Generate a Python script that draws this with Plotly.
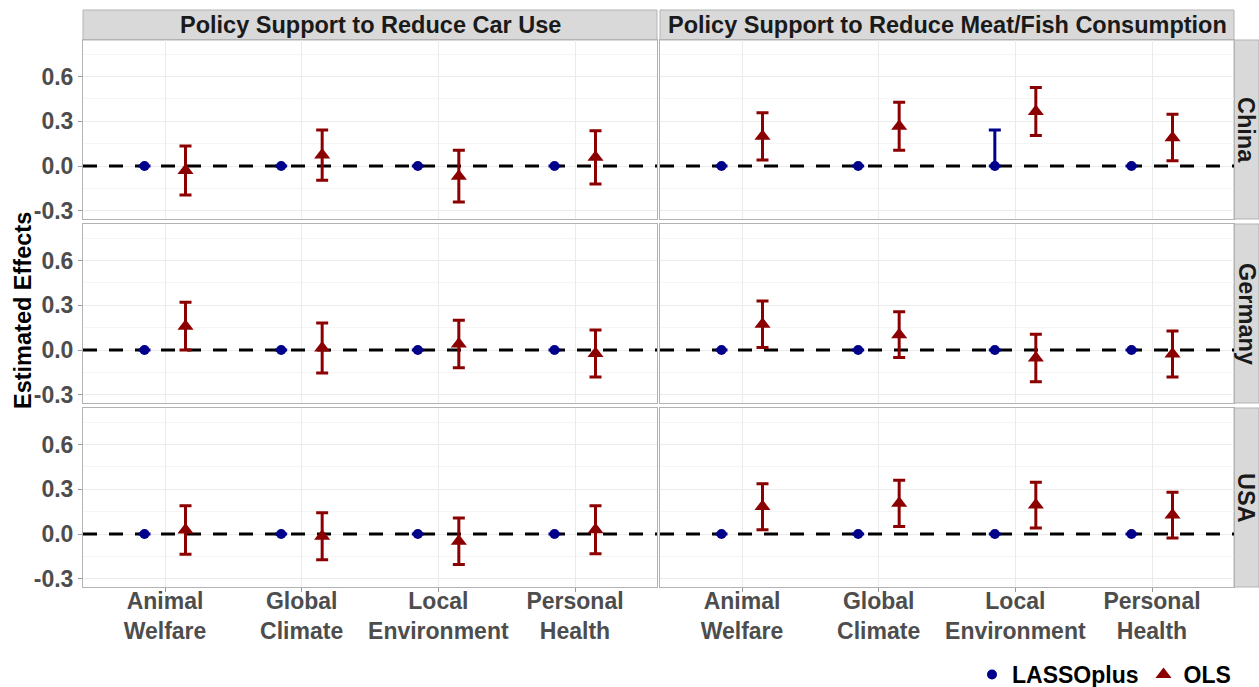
import plotly.graph_objects as go

# ---------------- data ----------------
categories = ["Animal Welfare", "Global Climate", "Local Environment", "Personal Health"]
category_ticks = ["Animal<br>Welfare", "Global<br>Climate", "Local<br>Environment", "Personal<br>Health"]
outcomes = ["Policy Support to Reduce Car Use", "Policy Support to Reduce Meat/Fish Consumption"]
countries = ["China", "Germany", "USA"]
y_ticks = [-0.3, 0.0, 0.3, 0.6]
y_tick_labels = ["-0.3", "0.0", "0.3", "0.6"]
reference_value = 0.0

# OLS estimates with lower / upper confidence bounds
ols_china_car = [-0.030, 0.073, -0.069, 0.058]
ols_china_car_lo = [-0.195, -0.096, -0.242, -0.121]
ols_china_car_hi = [0.134, 0.242, 0.105, 0.237]

ols_china_meat = [0.199, 0.266, 0.365, 0.190]
ols_china_meat_lo = [0.040, 0.105, 0.204, 0.036]
ols_china_meat_hi = [0.358, 0.427, 0.526, 0.347]

ols_germany_car = [0.160, 0.014, 0.040, -0.024]
ols_germany_car_lo = [0.000, -0.154, -0.119, -0.181]
ols_germany_car_hi = [0.320, 0.181, 0.199, 0.134]

ols_germany_meat = [0.172, 0.103, -0.054, -0.027]
ols_germany_meat_lo = [0.016, -0.051, -0.213, -0.181]
ols_germany_meat_hi = [0.329, 0.257, 0.105, 0.128]

ols_usa_car = [0.027, -0.015, -0.049, 0.029]
ols_usa_car_lo = [-0.136, -0.172, -0.204, -0.132]
ols_usa_car_hi = [0.190, 0.143, 0.107, 0.190]

ols_usa_meat = [0.184, 0.206, 0.194, 0.127]
ols_usa_meat_lo = [0.029, 0.051, 0.040, -0.027]
ols_usa_meat_hi = [0.338, 0.360, 0.347, 0.280]

# LASSOplus estimates with lower / upper bounds
lasso_china_car = [0.0, 0.0, 0.0, 0.0]
lasso_china_car_lo = [0.0, 0.0, 0.0, 0.0]
lasso_china_car_hi = [0.0, 0.0, 0.0, 0.0]

lasso_china_meat = [0.0, 0.0, 0.0, 0.0]
lasso_china_meat_lo = [0.0, 0.0, 0.0, 0.0]
lasso_china_meat_hi = [0.0, 0.0, 0.242, 0.0]

lasso_germany_car = [0.0, 0.0, 0.0, 0.0]
lasso_germany_car_lo = [0.0, 0.0, 0.0, 0.0]
lasso_germany_car_hi = [0.0, 0.0, 0.0, 0.0]

lasso_germany_meat = [0.0, 0.0, 0.0, 0.0]
lasso_germany_meat_lo = [0.0, 0.0, 0.0, 0.0]
lasso_germany_meat_hi = [0.0, 0.0, 0.0, 0.0]

lasso_usa_car = [0.0, 0.0, 0.0, 0.0]
lasso_usa_car_lo = [0.0, 0.0, 0.0, 0.0]
lasso_usa_car_hi = [0.0, 0.0, 0.0, 0.0]

lasso_usa_meat = [0.0, 0.0, 0.0, 0.0]
lasso_usa_meat_lo = [0.0, 0.0, 0.0, 0.0]
lasso_usa_meat_hi = [0.0, 0.0, 0.0, 0.0]

panels = {
    ("China", 0): (lasso_china_car, lasso_china_car_lo, lasso_china_car_hi, ols_china_car, ols_china_car_lo, ols_china_car_hi),
    ("China", 1): (lasso_china_meat, lasso_china_meat_lo, lasso_china_meat_hi, ols_china_meat, ols_china_meat_lo, ols_china_meat_hi),
    ("Germany", 0): (lasso_germany_car, lasso_germany_car_lo, lasso_germany_car_hi, ols_germany_car, ols_germany_car_lo, ols_germany_car_hi),
    ("Germany", 1): (lasso_germany_meat, lasso_germany_meat_lo, lasso_germany_meat_hi, ols_germany_meat, ols_germany_meat_lo, ols_germany_meat_hi),
    ("USA", 0): (lasso_usa_car, lasso_usa_car_lo, lasso_usa_car_hi, ols_usa_car, ols_usa_car_lo, ols_usa_car_hi),
    ("USA", 1): (lasso_usa_meat, lasso_usa_meat_lo, lasso_usa_meat_hi, ols_usa_meat, ols_usa_meat_lo, ols_usa_meat_hi),
}

# ---------------- layout constants ----------------
W, H = 1259, 687
FONT = "Liberation Sans, Arial, Helvetica, sans-serif"
LASSO_COLOR = "#00008B"
OLS_COLOR = "#8B0000"
BORDER = "#B3B3B3"
STRIP_FILL = "#D9D9D9"
DODGE = 0.15

col_px = [(83, 657), (660, 1234)]
row_px = [(40, 219), (224, 403), (408, 587)]
Y_RANGE = [-0.3557, 0.8456]
X_RANGE = [0.4, 4.6]

def px_x(a, b):
    return [a / W, b / W]

def px_y(top, bottom):
    return [1 - bottom / H, 1 - top / H]

fig = go.Figure()
layout = {}
shapes = []
annotations = []

x_pos = list(range(1, len(categories) + 1))

for r, country in enumerate(countries):
    for c in range(2):
        idx = r * 2 + c + 1
        xa = "x" if idx == 1 else f"x{idx}"
        ya = "y" if idx == 1 else f"y{idx}"
        lasso, lasso_lo, lasso_hi, ols, ols_lo, ols_hi = panels[(country, c)]

        # dashed reference line at zero spanning the panel
        fig.add_trace(go.Scatter(
            x=X_RANGE, y=[reference_value, reference_value], mode="lines",
            line=dict(color="black", width=3, dash="14px,12px"),
            showlegend=False, hoverinfo="skip", xaxis=xa, yaxis=ya,
        ))

        # LASSOplus: only draw bars with non-zero length
        l_up = [(h - e) if (h - lo) > 0 else float("nan") for e, lo, h in zip(lasso, lasso_lo, lasso_hi)]
        l_dn = [(e - lo) if (h - lo) > 0 else float("nan") for e, lo, h in zip(lasso, lasso_lo, lasso_hi)]
        fig.add_trace(go.Scatter(
            x=[p - DODGE for p in x_pos], y=lasso, mode="markers",
            marker=dict(symbol="circle", size=10, color=LASSO_COLOR),
            error_y=dict(type="data", symmetric=False, array=l_up, arrayminus=l_dn,
                         color=LASSO_COLOR, thickness=3, width=6),
            name="LASSOplus", legendgroup="lasso", showlegend=(idx == 1),
            xaxis=xa, yaxis=ya, hovertext=categories,
        ))
        fig.add_trace(go.Scatter(
            x=[p + DODGE for p in x_pos], y=ols, mode="markers",
            marker=dict(symbol="triangle-up", size=14, color=OLS_COLOR),
            error_y=dict(type="data", symmetric=False,
                         array=[h - e for e, h in zip(ols, ols_hi)],
                         arrayminus=[e - lo for e, lo in zip(ols, ols_lo)],
                         color=OLS_COLOR, thickness=3, width=6),
            name="OLS", legendgroup="ols", showlegend=(idx == 1),
            xaxis=xa, yaxis=ya, hovertext=categories,
        ))

        bottom = (r == len(countries) - 1)
        left = (c == 0)
        key_x = "xaxis" if idx == 1 else f"xaxis{idx}"
        key_y = "yaxis" if idx == 1 else f"yaxis{idx}"
        layout[key_x] = dict(
            domain=px_x(*col_px[c]), range=X_RANGE, anchor=ya,
            tickvals=x_pos, ticktext=category_ticks, showticklabels=bottom,
            ticks="outside" if bottom else "", ticklen=4, tickcolor="#999999",
            ticklabelstandoff=-11,
            tickfont=dict(family=FONT, size=23, color="#4D4D4D", weight="bold"),
            showgrid=True, gridcolor="#EBEBEB", gridwidth=1,
            showline=True, linecolor=BORDER, linewidth=1, mirror=True,
            zeroline=False, fixedrange=True, automargin=False,
        )
        layout[key_y] = dict(
            domain=px_y(*row_px[r]), range=Y_RANGE, anchor=xa,
            tickvals=y_ticks, ticktext=y_tick_labels, showticklabels=left,
            ticks="outside" if left else "", ticklen=4, tickcolor="#999999",
            tickfont=dict(family=FONT, size=23, color="#4D4D4D", weight="bold"),
            showgrid=True, gridcolor="#EBEBEB", gridwidth=1,
            minor=dict(tickvals=[-0.15, 0.15, 0.45, 0.75], showgrid=True,
                       gridcolor="#F5F5F5", gridwidth=1, ticks=""),
            showline=True, linecolor=BORDER, linewidth=1, mirror=True,
            zeroline=False, fixedrange=True, automargin=False,
        )

# top strips
for c, title in enumerate(outcomes):
    x0, x1 = px_x(*col_px[c])
    y0, y1 = px_y(10, 40)
    shapes.append(dict(type="rect", xref="paper", yref="paper", x0=x0, x1=x1, y0=y0, y1=y1,
                       fillcolor=STRIP_FILL, line=dict(color=BORDER, width=1), layer="below"))
    annotations.append(dict(text=title, xref="paper", yref="paper", x=(x0 + x1) / 2, y=(y0 + y1) / 2,
                            xanchor="center", yanchor="middle", showarrow=False,
                            font=dict(family=FONT, size=23.5, color="#1A1A1A", weight="bold")))

# right strips
for r, country in enumerate(countries):
    x0, x1 = px_x(1234, 1259)
    y0, y1 = px_y(*row_px[r])
    shapes.append(dict(type="rect", xref="paper", yref="paper", x0=x0, x1=x1, y0=y0, y1=y1,
                       fillcolor=STRIP_FILL, line=dict(color=BORDER, width=1), layer="below"))
    annotations.append(dict(text=country, xref="paper", yref="paper", x=(x0 + x1) / 2, y=(y0 + y1) / 2,
                            xanchor="center", yanchor="middle", showarrow=False, textangle=90,
                            font=dict(family=FONT, size=23.5, color="#1A1A1A", weight="bold")))

# y-axis title
annotations.append(dict(text="Estimated Effects", xref="paper", yref="paper",
                        x=23 / W, y=1 - 311 / H, xanchor="center", yanchor="middle",
                        showarrow=False, textangle=-90,
                        font=dict(family=FONT, size=23.5, color="black", weight="bold")))

fig.update_layout(
    width=W, height=H, margin=dict(l=0, r=0, t=0, b=0, autoexpand=False),
    paper_bgcolor="white", plot_bgcolor="white",
    font=dict(family=FONT),
    shapes=shapes, annotations=annotations,
    legend=dict(orientation="h", x=1236 / W, xanchor="right", y=1 - 696 / H, yanchor="bottom",
                font=dict(family=FONT, size=23, color="black", weight="bold"),
                itemwidth=30, tracegroupgap=0, bgcolor="rgba(0,0,0,0)"),
    **layout,
)

fig.write_html(
    "out.html",
    config={"displayModeBar": False},
    post_script="document.body.style.margin='0';document.body.style.padding='0';",
)
